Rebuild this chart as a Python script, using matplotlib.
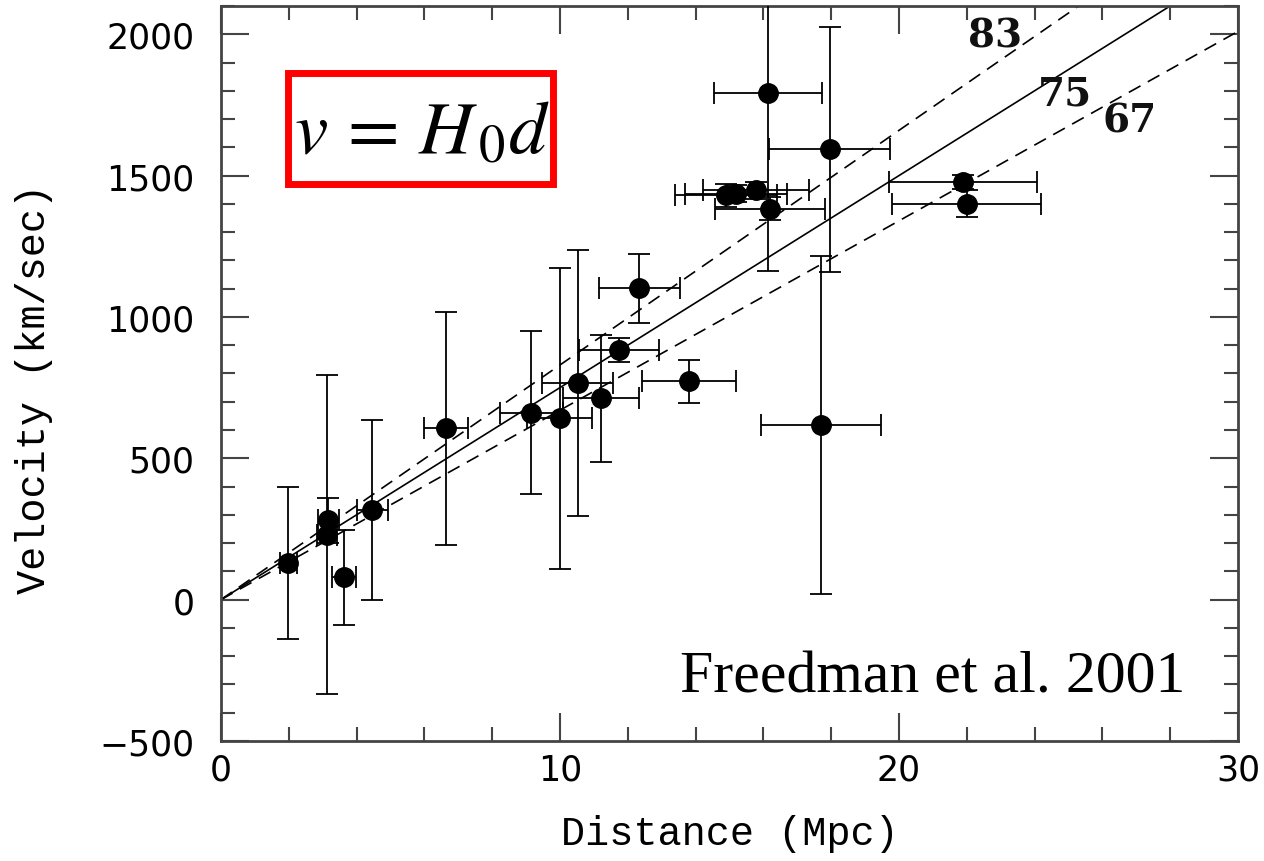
"""Hubble diagram: Cepheid-calibrated distances vs recession velocity (Freedman et al. 2001)."""

import matplotlib
matplotlib.use("Agg")
import matplotlib.pyplot as plt
import numpy as np
from matplotlib.patches import Rectangle
from matplotlib.ticker import MultipleLocator

# galaxy distances (Mpc) and velocities (km/s) with 1-sigma errors
dist = [1.99, 3.17, 3.12, 3.63, 4.47, 6.63, 9.16, 10.0, 10.52, 11.22, 11.75, 12.34,
        13.8, 14.9, 15.2, 15.78, 16.13, 16.2, 17.7, 17.96, 21.9, 22.0]
vel = [130, 281, 230, 80, 317, 606, 662, 641, 766, 712, 884, 1102,
       772, 1430, 1436, 1448, 1791, 1383, 618, 1593, 1476, 1401]
dist_err = [0.25, 0.3, 0.3, 0.34, 0.46, 0.65, 0.93, 0.96, 1.05, 1.12, 1.18, 1.2,
            1.38, 1.5, 1.5, 1.56, 1.6, 1.63, 1.77, 1.79, 2.18, 2.2]
vel_err = [270, 80, 565, 168, 318, 412, 288, 532, 470, 224, 43, 122,
           76, 42, 30, 30, 630, 40, 597, 434, 25, 48]

# Hubble constants for the reference lines (km/s/Mpc)
h0_values = [83, 75, 67]
h0_styles = ["--", "-", "--"]
h0_label_pos = [(22.83, 1996), (24.9, 1791), (26.8, 1695)]

XLIM = (0, 30)
YLIM = (-500, 2100)

plt.rcParams["mathtext.fontset"] = "stix"

fig = plt.figure(figsize=(12.64, 8.62), dpi=100)
ax = fig.add_axes([0.1748, 0.1392, 0.8046, 0.8527])

d_line = np.linspace(0, XLIM[1], 200)
for h0, ls in zip(h0_values, h0_styles):
    ax.plot(d_line, h0 * d_line, ls=ls, color="black", lw=1.2,
            dashes=(8, 5) if ls == "--" else (None, None), zorder=2)
for h0, (lx, ly) in zip(h0_values, h0_label_pos):
    ax.text(lx, ly, str(h0), ha="center", va="center", fontsize=28,
            family="DejaVu Serif", fontweight="bold", color="#111111")

ax.errorbar(dist, vel, xerr=dist_err, yerr=vel_err, fmt="o", color="black",
            ms=14, elinewidth=1.3, capsize=8, capthick=1.3, zorder=3)

ax.set_xlim(*XLIM)
ax.set_ylim(*YLIM)
ax.xaxis.set_major_locator(MultipleLocator(10))
ax.xaxis.set_minor_locator(MultipleLocator(2))
ax.yaxis.set_major_locator(MultipleLocator(500))
ax.yaxis.set_minor_locator(MultipleLocator(100))
ax.tick_params(which="both", direction="in", top=True, right=True,
               color="#444444", width=1.5)
ax.tick_params(which="major", length=20)
ax.tick_params(which="minor", length=10)
ax.tick_params(axis="y", which="major", pad=19, labelsize=25)
ax.tick_params(axis="x", which="major", pad=8, labelsize=25)
for lab in ax.get_xticklabels() + ax.get_yticklabels():
    lab.set_family("DejaVu Sans")
ax.yaxis.set_major_formatter(plt.FuncFormatter(lambda v, p: f"{int(v)}".replace("-", "\u2212")))
for sp in ax.spines.values():
    sp.set_color("#444444")
    sp.set_linewidth(2)

ax.set_xlabel("Distance (Mpc)", family="Liberation Mono", fontsize=29, labelpad=20)
ax.set_ylabel("Velocity (km/sec)", family="Liberation Mono", fontsize=29)
ax.yaxis.set_label_coords(-0.165, 0.48)

ax.add_patch(Rectangle((0.0664, 0.758), 0.2603, 0.1515, transform=ax.transAxes,
                       fill=False, edgecolor="#ff0000", lw=5, zorder=4))
ax.text(0.1976, 0.829, r"$v\,=\,H_{\,0}d$", transform=ax.transAxes, ha="center",
        va="center", fontsize=54, zorder=5)

ax.text(0.948, 0.068, "Freedman et al. 2001", transform=ax.transAxes, ha="right",
        va="baseline", fontsize=43, family="Liberation Serif")

fig.savefig("out.png", dpi=100)
